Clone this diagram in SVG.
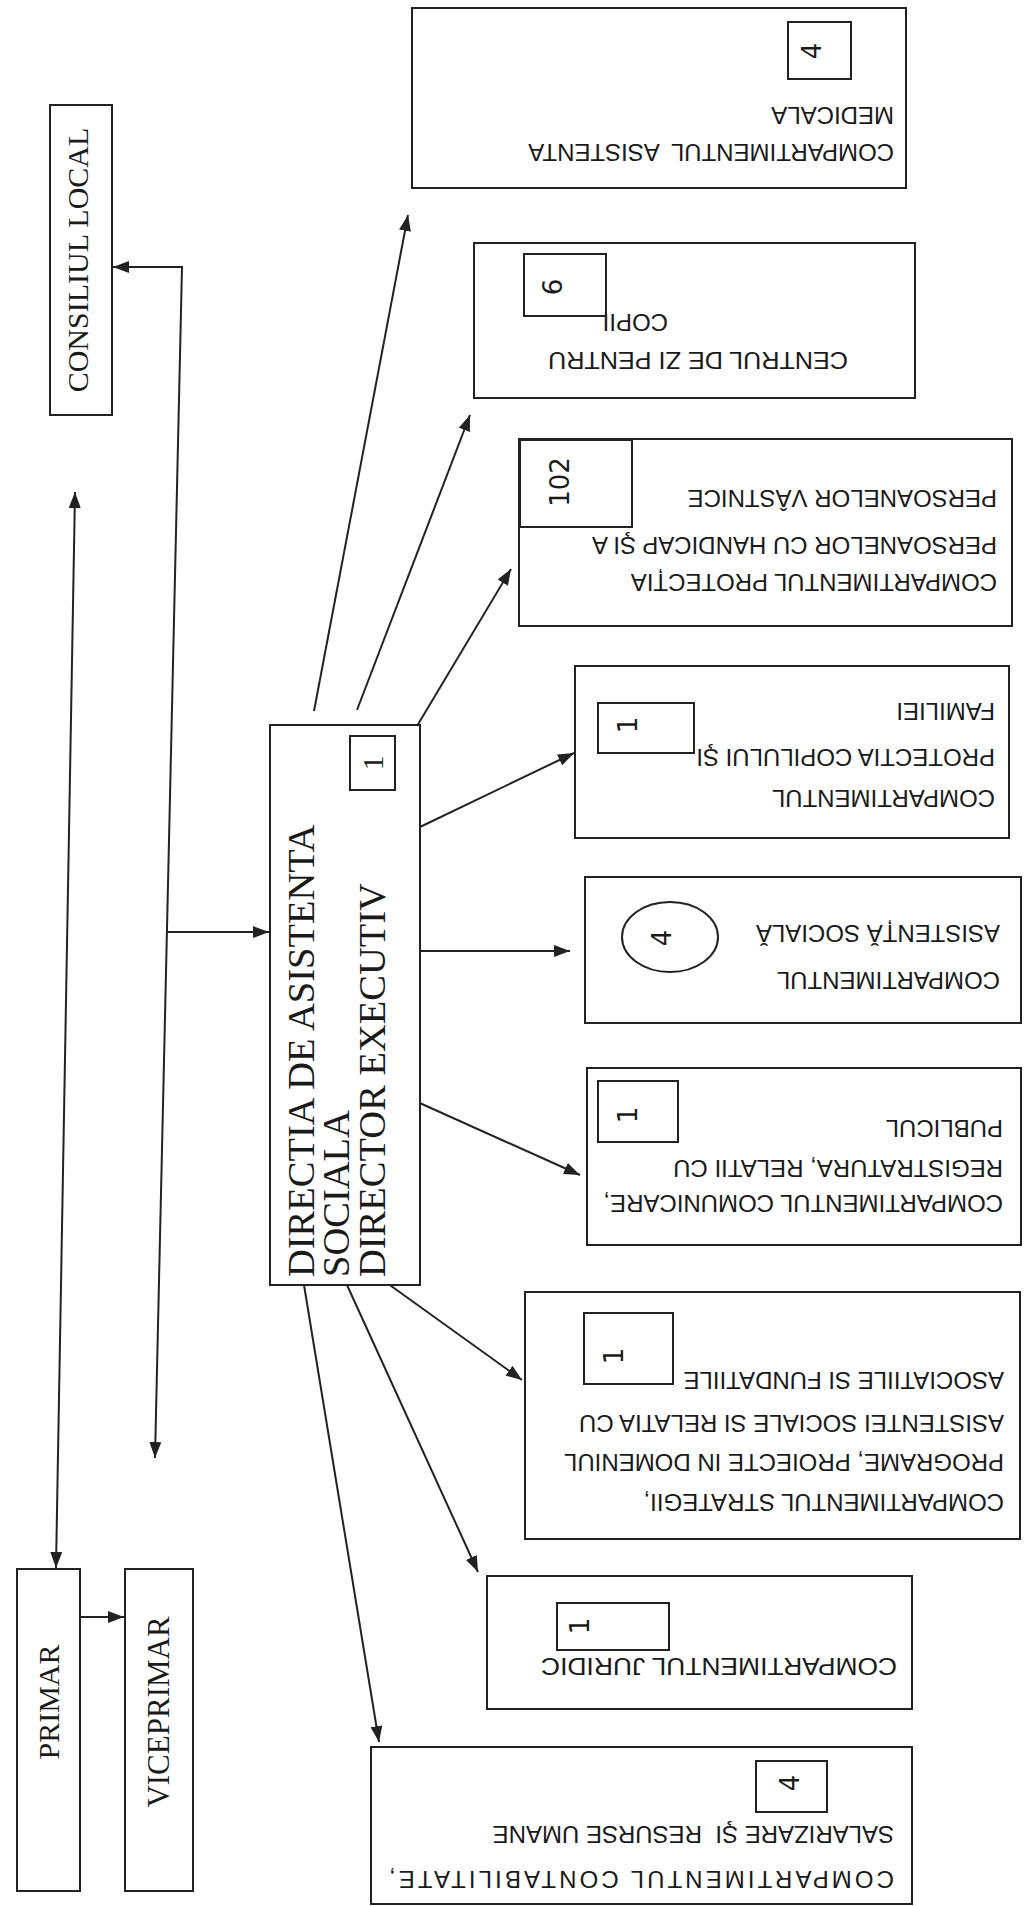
<svg xmlns="http://www.w3.org/2000/svg" width="1030" height="1906" viewBox="0 0 1030 1906">
<defs>
<marker id="ah" viewBox="0 0 16 12" refX="16" refY="6" markerWidth="16" markerHeight="12" markerUnits="userSpaceOnUse" orient="auto-start-reverse"><path d="M0,0 L16,6 L0,12 z" fill="#222"/></marker>
</defs>
<style>
.box{fill:#fff;stroke:#222;stroke-width:2}
.sm{fill:none;stroke:#222;stroke-width:2}
.ln{fill:none;stroke:#222;stroke-width:2}
.ser{font-family:"Liberation Serif","Times New Roman",serif;fill:#1a1a1a}
.san{font-family:"Liberation Sans",Arial,sans-serif;font-size:24px;fill:#1a1a1a}
.num{font-family:"DejaVu Sans","Liberation Sans",sans-serif;font-size:26px;fill:#1a1a1a}
</style>
<rect width="1030" height="1906" fill="#fff"/>

<g id="connectors">
<path class="ln" d="M155,1458 L182,267 L113,267" marker-start="url(#ah)" marker-end="url(#ah)"/>
<path class="ln" d="M75,492 L56,1568" marker-start="url(#ah)" marker-end="url(#ah)"/>
<path class="ln" d="M80,1617 L124,1617" marker-end="url(#ah)"/>
<path class="ln" d="M167,932 L269,932" marker-end="url(#ah)"/>
<path class="ln" d="M314,711 L408,215" marker-end="url(#ah)"/>
<path class="ln" d="M357,710 L470,415" marker-end="url(#ah)"/>
<path class="ln" d="M417,726 L511,569" marker-end="url(#ah)"/>
<path class="ln" d="M420,827 L574,753" marker-end="url(#ah)"/>
<path class="ln" d="M420,951 L570,951" marker-end="url(#ah)"/>
<path class="ln" d="M413,1100 L580,1175" marker-end="url(#ah)"/>
<path class="ln" d="M387,1283 L522,1380" marker-end="url(#ah)"/>
<path class="ln" d="M347,1285 L478,1572" marker-end="url(#ah)"/>
<path class="ln" d="M304,1285 L379,1742" marker-end="url(#ah)"/>
</g>

<g id="consiliul-local">
<rect class="box" x="50" y="105" width="62" height="310"/>
<text class="ser" font-size="30" text-anchor="middle" transform="translate(78,260) rotate(-90)" dy="0.33em">CONSILIUL LOCAL</text>
</g>

<g id="primar">
<rect class="box" x="17" y="1569" width="63" height="322"/>
<text class="ser" font-size="30" text-anchor="middle" transform="translate(49,1702) rotate(-90)" dy="0.33em">PRIMAR</text>
</g>

<g id="viceprimar">
<rect class="box" x="125" y="1569" width="68" height="322"/>
<text class="ser" font-size="31" text-anchor="middle" transform="translate(159,1712) rotate(-90)" dy="0.33em">VICEPRIMAR</text>
</g>

<g id="directia">
<rect class="box" x="270" y="725" width="150" height="560"/>
<text class="ser" font-size="38.5" transform="translate(314,1277) rotate(-90)">DIRECTIA DE ASISTENTA</text>
<text class="ser" font-size="38.5" transform="translate(349,1277) rotate(-90)">SOCIALA</text>
<text class="ser" font-size="38.5" transform="translate(385,1277) rotate(-90)">DIRECTOR EXECUTIV</text>
<rect class="sm" x="350" y="736" width="45" height="54"/>
<text class="ser" font-size="30" text-anchor="middle" transform="translate(373,763) rotate(-90)" dy="0.33em">1</text>
</g>

<g id="asistenta-medicala">
<rect class="box" x="412" y="8" width="494" height="180"/>
<text class="san" transform="translate(894,152) rotate(180)" dy="0.35em" xml:space="preserve">COMPARTIMENTUL  ASISTENTA</text>
<text class="san" transform="translate(894,115) rotate(180)" dy="0.35em">MEDICALA</text>
<rect class="sm" x="788" y="22" width="63" height="57"/>
<text class="num" text-anchor="middle" transform="translate(812,51) rotate(-90)" dy="0.36em">4</text>
</g>

<g id="centrul-de-zi">
<rect class="box" x="474" y="243" width="441" height="155"/>
<text class="san" transform="translate(848,360) rotate(180)" dy="0.35em" textLength="300" lengthAdjust="spacingAndGlyphs">CENTRUL DE ZI PENTRU</text>
<text class="san" transform="translate(668,322) rotate(180)" dy="0.35em">COPII</text>
<rect class="sm" x="524" y="254" width="82" height="62"/>
<text class="num" text-anchor="middle" transform="translate(553,287) rotate(-90)" dy="0.36em">6</text>
</g>

<g id="protectia-handicap">
<rect class="box" x="519" y="439" width="493" height="187"/>
<text class="san" transform="translate(997,582) rotate(180)" dy="0.35em">COMPARTIMENTUL PROTECȚIA</text>
<text class="san" transform="translate(997,545) rotate(180)" dy="0.35em">PERSOANELOR CU HANDICAP ŞI A</text>
<text class="san" transform="translate(997,498) rotate(180)" dy="0.35em">PERSOANELOR VÂSTNICE</text>
<rect class="sm" x="520" y="440" width="112" height="87"/>
<text class="num" text-anchor="middle" transform="translate(560,482) rotate(-90)" dy="0.36em">102</text>
</g>

<g id="protectia-copilului">
<rect class="box" x="575" y="666" width="434" height="172"/>
<text class="san" transform="translate(995,798) rotate(180)" dy="0.35em">COMPARTIMENTUL</text>
<text class="san" transform="translate(995,757) rotate(180)" dy="0.35em">PROTECTIA COPILULUI ŞI</text>
<text class="san" transform="translate(995,711) rotate(180)" dy="0.35em">FAMILIEI</text>
<rect class="sm" x="598" y="703" width="96" height="50"/>
<text class="num" text-anchor="middle" transform="translate(628,725) rotate(-90)" dy="0.36em">1</text>
</g>

<g id="asistenta-sociala">
<rect class="box" x="585" y="877" width="436" height="146"/>
<text class="san" transform="translate(1000,980) rotate(180)" dy="0.35em">COMPARTIMENTUL</text>
<text class="san" transform="translate(1000,933) rotate(180)" dy="0.35em">ASISTENȚĂ SOCIALĂ</text>
<ellipse class="sm" cx="670" cy="937" rx="48" ry="35"/>
<text class="num" text-anchor="middle" transform="translate(662,938) rotate(-90)" dy="0.36em">4</text>
</g>

<g id="comunicare">
<rect class="box" x="587" y="1068" width="434" height="177"/>
<text class="san" transform="translate(1003,1203) rotate(180)" dy="0.35em">COMPARTIMENTUL COMUNICARE,</text>
<text class="san" transform="translate(1003,1168) rotate(180)" dy="0.35em">REGISTRATURA, RELATII CU</text>
<text class="san" transform="translate(1003,1128) rotate(180)" dy="0.35em">PUBLICUL</text>
<rect class="sm" x="598" y="1081" width="80" height="61"/>
<text class="num" text-anchor="middle" transform="translate(628,1115) rotate(-90)" dy="0.36em">1</text>
</g>

<g id="strategii">
<rect class="box" x="525" y="1292" width="495" height="247"/>
<text class="san" transform="translate(1004,1502) rotate(180)" dy="0.35em">COMPARTIMENTUL STRATEGII,</text>
<text class="san" transform="translate(1004,1462) rotate(180)" dy="0.35em">PROGRAME, PROIECTE IN DOMENIUL</text>
<text class="san" transform="translate(1004,1423) rotate(180)" dy="0.35em">ASISTENTEI SOCIALE SI RELATIA CU</text>
<text class="san" transform="translate(1004,1380) rotate(180)" dy="0.35em">ASOCIATIILE SI FUNDATIILE</text>
<rect class="sm" x="584" y="1313" width="89" height="71"/>
<text class="num" text-anchor="middle" transform="translate(614,1356) rotate(-90)" dy="0.36em">1</text>
</g>

<g id="juridic">
<rect class="box" x="487" y="1576" width="425" height="133"/>
<text class="san" transform="translate(897,1666) rotate(180)" dy="0.35em" textLength="356" lengthAdjust="spacingAndGlyphs">COMPARTIMENTUL JURIDIC</text>
<rect class="sm" x="557" y="1603" width="112" height="47"/>
<text class="num" text-anchor="middle" transform="translate(580,1626) rotate(-90)" dy="0.36em">1</text>
</g>

<g id="contabilitate">
<rect class="box" x="371" y="1747" width="541" height="157"/>
<text class="san" transform="translate(894,1879) rotate(180)" dy="0.35em" textLength="505" lengthAdjust="spacing">COMPARTIMENTUL CONTABILITATE,</text>
<text class="san" transform="translate(894,1834) rotate(180)" dy="0.35em" xml:space="preserve">SALARIZARE ŞI  RESURSE UMANE</text>
<rect class="sm" x="756" y="1761" width="71" height="51"/>
<text class="num" text-anchor="middle" transform="translate(790,1783) rotate(-90)" dy="0.36em">4</text>
</g>
</svg>
